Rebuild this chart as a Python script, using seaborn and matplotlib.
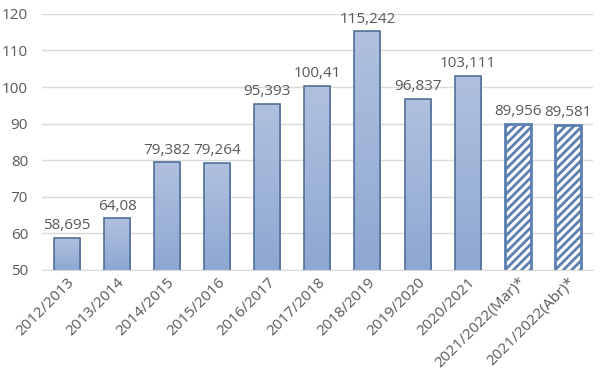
import matplotlib.pyplot as plt
import matplotlib.colors as mcolors
import numpy as np
import pandas as pd
import seaborn as sns

seasons = ["2012/2013", "2013/2014", "2014/2015", "2015/2016", "2016/2017",
           "2017/2018", "2018/2019", "2019/2020", "2020/2021",
           "2021/2022(Mar)*", "2021/2022(Abr)*"]
values = [58.695, 64.08, 79.382, 79.264, 95.393, 100.41, 115.242, 96.837,
          103.111, 89.956, 89.581]
labels = ["58,695", "64,08", "79,382", "79,264", "95,393", "100,41", "115,242",
          "96,837", "103,111", "89,956", "89,581"]
estimated = [False] * 9 + [True, True]


def main():
    sns.set_style("white")
    plt.rcParams['font.family'] = ['Open Sans', 'DejaVu Sans']
    edge = "#4f6f9a"
    plt.rcParams['hatch.color'] = "#5a7fb0"
    plt.rcParams['hatch.linewidth'] = 2.0
    df = pd.DataFrame({"season": seasons, "value": values})

    fig = plt.figure(figsize=(6.08, 3.76), dpi=100)
    ax = fig.add_axes([0.069, 0.282, 0.906, 0.681])
    sns.barplot(x="season", y="value", data=df, ax=ax, width=0.52,
                color="white", edgecolor=edge, linewidth=1.2)
    ax.set_ylim(50, 120)
    ax.set_xlim(-0.5, len(seasons) - 0.5)
    ax.set_yticks(range(50, 121, 10))

    cmap = mcolors.LinearSegmentedColormap.from_list("bar", ["#8ea7d2", "#b0c1de"])
    grad = np.linspace(0, 1, 256).reshape(-1, 1)
    for bar, est in zip(ax.patches, estimated):
        x0, y0 = bar.get_x(), 50
        w, h = bar.get_width(), bar.get_height()
        if est:
            bar.set_facecolor("white")
            bar.set_hatch("////")
            bar.set_edgecolor("#5a7fb0")
            bar.set_linewidth(2.0)
        else:
            im = ax.imshow(grad, cmap=cmap, aspect="auto", origin="lower",
                           extent=[x0, x0 + w, y0, h], zorder=bar.get_zorder())
            im.set_clip_path(bar)
            bar.set_facecolor("none")
            bar.set_zorder(bar.get_zorder() + 0.1)

    for i, (v, lab) in enumerate(zip(values, labels)):
        ax.text(i, v + 1.3, lab, ha="center", va="bottom", fontsize=11,
                color="#595959")

    ax.yaxis.grid(True, color="#d9d9d9", linewidth=1)
    ax.set_axisbelow(True)
    for s in ["top", "right", "left"]:
        ax.spines[s].set_visible(False)
    ax.spines["bottom"].set_color("#d9d9d9")
    ax.set_xlabel("")
    ax.set_ylabel("")
    ax.tick_params(axis="both", length=0, labelsize=11, labelcolor="#595959")
    ax.tick_params(axis="y", pad=10)
    plt.setp(ax.get_xticklabels(), rotation=45, ha="right",
             rotation_mode="anchor")

    fig.savefig("out.png", dpi=100)


if __name__ == "__main__":
    main()
